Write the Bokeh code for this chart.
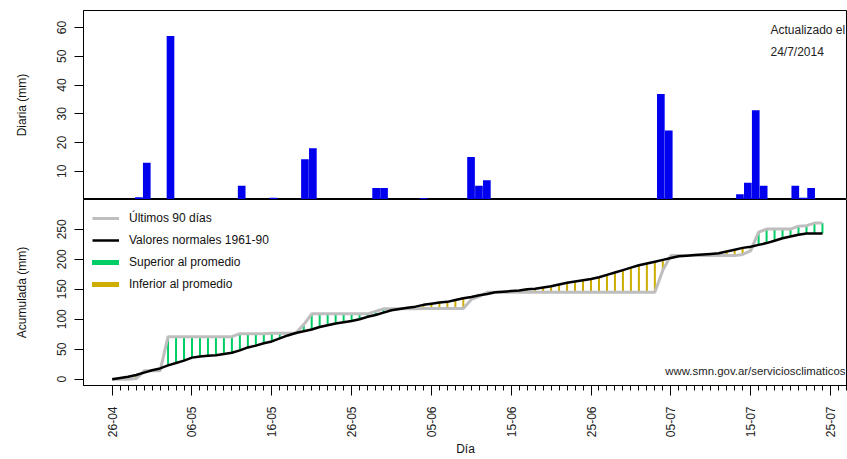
import numpy as np
from bokeh.plotting import figure
from bokeh.layouts import column
from bokeh.models import (FixedTicker, Legend, LegendItem, Label, Range1d)
from bokeh.embed import file_html
from bokeh.resources import INLINE

# ---------------- data ----------------
n_days = 90
rain_days = [3, 4, 7, 16, 20, 24, 25, 33, 34, 39, 45, 46, 47, 69, 70, 79, 80, 81, 82, 86, 87, 88]
rain_mm = [1.0, 13.0, 57.0, 5.0, 0.8, 14.2, 18.0, 4.2, 4.2, 0.7, 15.0, 5.0, 6.9,
           36.9, 24.2, 2.0, 6.0, 31.2, 5.0, 5.0, 0.8, 4.2]
normal_cum = [0, 2, 4, 7, 11, 15, 18, 23, 27, 31,
              36, 38, 39, 40, 42, 44, 48, 53, 56, 60,
              63, 68, 73, 77, 80, 83, 87, 90, 93, 95,
              97, 100, 104, 107, 111, 115, 117, 119, 121, 124,
              126, 128, 129, 132, 135, 137, 140, 142, 145, 146,
              147, 148, 150, 151, 153, 155, 158, 161, 163, 165,
              167, 170, 174, 178, 182, 186, 190, 193, 196, 199,
              202, 205, 206, 207, 208, 209, 210, 213, 216, 219,
              221, 224, 227, 231, 235, 238, 241, 243, 243, 243]
tick_days = [0, 10, 20, 30, 40, 50, 60, 70, 80, 90]
tick_labels = ["26-04", "06-05", "16-05", "26-05", "05-06", "15-06", "25-06", "05-07", "15-07", "25-07"]
daily_ticks = [10, 20, 30, 40, 50, 60]
cum_ticks = [0, 50, 100, 150, 200, 250]

days = np.arange(n_days)
daily = np.zeros(n_days)
daily[rain_days] = rain_mm
obs_cum = np.cumsum(daily)
normal = np.array(normal_cum, dtype=float)

FONT = "Liberation Sans"
GREEN = "#00cd66"
GOLD = "#cdad00"
GRAY = "#bebebe"
BLUE = "#0000ee"

W = 847
LEFT = 83
ROT = np.pi / 2

# ---------------- top panel ----------------
top = figure(width=W, height=199, output_backend="svg", toolbar_location=None,
             x_range=Range1d(-4.0, 92.6), y_range=Range1d(0.2, 65.9),
             min_border_left=LEFT, min_border_right=0, min_border_top=10, min_border_bottom=0,
             x_axis_location=None)
top.vbar(x=rain_days, top=rain_mm, bottom=0, width=0.97, fill_color=BLUE, line_color=None)
top.grid.visible = False
top.outline_line_color = "black"
top.outline_line_width = 1

def style_y(ax, ticks, title, standoff_lab, standoff_title):
    ax.ticker = FixedTicker(ticks=ticks)
    ax.axis_label = title
    ax.axis_label_text_font = FONT
    ax.axis_label_text_font_size = "12px"
    ax.axis_label_text_font_style = "normal"
    ax.axis_label_text_color = "#111111"
    ax.major_label_text_font = FONT
    ax.major_label_text_font_size = "12px"
    ax.major_label_text_color = "#222222"
    ax.major_label_orientation = "parallel"
    ax.major_tick_out = 9
    ax.major_tick_in = 0
    ax.minor_tick_out = 0
    ax.minor_tick_in = 0
    ax.major_label_standoff = standoff_lab
    ax.axis_label_standoff = standoff_title
    ax.axis_line_color = "black"
    ax.major_tick_line_color = "black"

style_y(top.yaxis[0], daily_ticks, "Diaria (mm)", 8, 26)

top.add_layout(Label(x=82.86, y=59.1, text="Actualizado el", text_font=FONT, text_font_size="12px",
                     text_baseline="middle", text_align="left", text_color="#222222"))
top.add_layout(Label(x=82.86, y=51.4, text="24/7/2014", text_font=FONT, text_font_size="12px",
                     text_baseline="middle", text_align="left", text_color="#222222"))

# ---------------- bottom panel ----------------
bot = figure(width=W, height=260, output_backend="svg", toolbar_location=None,
             x_range=Range1d(-3.596, 92.14), y_range=Range1d(-10.5, 299.7),
             min_border_left=LEFT, min_border_right=0, min_border_top=0, min_border_bottom=71)
bot.grid.visible = False
bot.outline_line_color = "black"
bot.outline_line_width = 1

diff = obs_cum - normal
up = diff > 0.01
dn = diff < -0.01
bot.segment(x0=days[up], y0=normal[up], x1=days[up], y1=obs_cum[up], line_color=GREEN, line_width=2)
bot.segment(x0=days[dn], y0=normal[dn], x1=days[dn], y1=obs_cum[dn], line_color=GOLD, line_width=2)

r_obs = bot.line(days, obs_cum, line_color=GRAY, line_width=3)
r_norm = bot.line(days, normal, line_color="black", line_width=2.5)
r_sup = bot.line([np.nan, np.nan], [np.nan, np.nan], line_color=GREEN, line_width=5, line_cap="round")
r_inf = bot.line([np.nan, np.nan], [np.nan, np.nan], line_color=GOLD, line_width=5, line_cap="round")

legend = Legend(items=[LegendItem(label="Últimos 90 días", renderers=[r_obs]),
                       LegendItem(label="Valores normales 1961-90", renderers=[r_norm]),
                       LegendItem(label="Superior al promedio", renderers=[r_sup]),
                       LegendItem(label="Inferior al promedio", renderers=[r_inf])],
                location="top_left", margin=9, padding=10, spacing=2,
                label_height=20, glyph_height=20, glyph_width=27, label_standoff=10,
                border_line_color=None, background_fill_alpha=0,
                label_text_font=FONT, label_text_font_size="12px", label_text_color="#111111")
bot.add_layout(legend)

bot.add_layout(Label(x=91.89, y=13.6, text="www.smn.gov.ar/serviciosclimaticos", text_font=FONT,
                     text_font_size="11.4px", text_baseline="middle", text_align="right",
                     text_color="#222222"))

style_y(bot.yaxis[0], cum_ticks, "Acumulada (mm)", 8, 26)

xa = bot.xaxis[0]
xa.ticker = FixedTicker(ticks=tick_days, minor_ticks=list(range(0, 93)))
xa.major_label_overrides = {d: lab for d, lab in zip(tick_days, tick_labels)}
xa.major_label_orientation = ROT
xa.major_label_text_font = FONT
xa.major_label_text_font_size = "12px"
xa.major_label_text_color = "#222222"
xa.major_tick_out = 10
xa.major_tick_in = 0
xa.minor_tick_out = 5
xa.minor_tick_in = 0
xa.major_label_standoff = 11
xa.axis_label = "Día"
xa.axis_label_text_font = FONT
xa.axis_label_text_font_size = "12px"
xa.axis_label_text_font_style = "normal"
xa.axis_label_text_color = "#111111"
xa.axis_label_standoff = 2
xa.axis_line_color = "black"
xa.major_tick_line_color = "black"
xa.minor_tick_line_color = "black"

layout = column(top, bot, spacing=0)
open("out.html", "w").write(file_html(layout, INLINE))
